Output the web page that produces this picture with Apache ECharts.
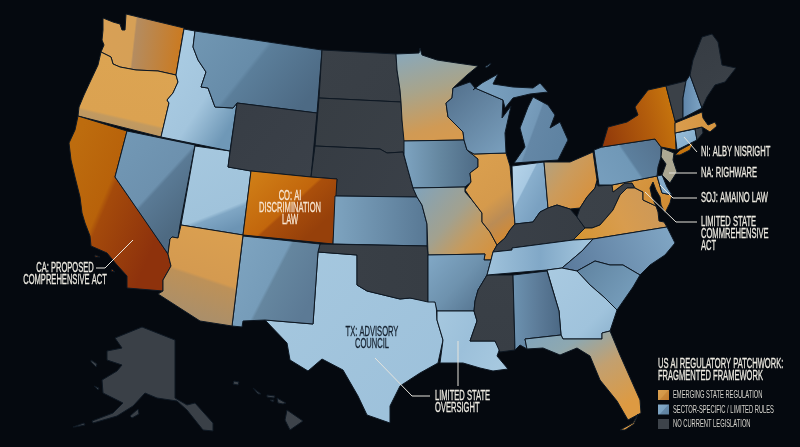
<!DOCTYPE html>
<html>
<head>
<meta charset="utf-8">
<title>US AI regulatory patchwork</title>
<script src="https://cdn.jsdelivr.net/npm/echarts@6/dist/echarts.min.js"></script>
<style>
  html, body { margin: 0; padding: 0; background: #05090f; }
  #chart { width: 800px; height: 447px; }
</style>
</head>
<body>
<div id="chart"></div>
<script>
// data: which regulatory tier each state sits in
const strongStates = ['CA', 'CO', 'NY'];
const emergingStates = ['WA', 'OR', 'AZ', 'MN', 'IL', 'MO', 'OH', 'VA', 'MD', 'MA', 'FL'];
const sectorStates = ['ID', 'MT', 'NV', 'UT', 'NM', 'TX', 'KS', 'IA', 'WI', 'MI', 'MIU', 'IN', 'PA', 'NJ', 'DE', 'CT', 'NH',
  'AR', 'LA', 'TN', 'AL', 'GA', 'SC', 'NC'];
const noLawStates = ['WY', 'ND', 'SD', 'NE', 'OK', 'KY', 'WV', 'MS', 'VT', 'RI', 'ME', 'AK', 'HI'];

const legendTitle = ['US AI REGULATORY PATCHWORK:', 'FRAGMENTED FRAMEWORK'];
const legendLabels = ['EMERGING STATE REGULATION', 'SECTOR-SPECIFIC / LIMITED RULES', 'NO CURRENT LEGISLATION'];

// outlines, in picture pixels
const stateShapes = {
  WA: [[[103,18],[113,22],[120,24],[122,30],[125,30],[126,14],[184,28],[176,75],[158,71],[136,70],[120,67],[113,64],[111,57],[101,52],[104,45],[102,40],[103,30]]],
  OR: [[[101,52],[111,57],[113,64],[120,67],[136,70],[158,71],[176,75],[178,82],[173,93],[167,100],[169,103],[161,137],[78,116],[79,107],[84,95],[90,82],[98,65]]],
  CA: [[[78,116],[127,131],[115,177],[147,223],[168,254],[171,266],[163,280],[163,291],[127,288],[127,276],[117,265],[107,253],[91,246],[90,236],[85,223],[82,213],[80,197],[75,177],[71,160],[69,143],[75,130]],
       [[95,255],[100,257],[99,258],[95,257]],[[112,269],[115,272],[114,273],[111,271]]],
  NV: [[[127,131],[195,145],[180,225],[178,238],[172,237],[170,239],[168,254],[115,177]]],
  UT: [[[195,146],[230,151],[228,167],[251,171],[243,235],[181,225]]],
  ID: [[[184,29],[195,31],[193,47],[198,60],[206,72],[201,87],[208,88],[215,107],[233,108],[237,103],[230,151],[161,137],[169,103],[167,100],[173,93],[178,82],[176,75]]],
  MT: [[[195,31],[322,50],[317,113],[237,103],[233,108],[215,107],[208,88],[201,87],[206,72],[198,60],[193,47]]],
  WY: [[[237,103],[317,113],[311,177],[251,171],[228,167]]],
  ND: [[[322,50],[396,54],[397,70],[400,90],[401,102],[319,98]]],
  SD: [[[319,98],[401,102],[402,120],[405,140],[404,155],[403,152],[387,153],[380,149],[315,146]]],
  NE: [[[315,146],[380,149],[387,153],[403,152],[408,170],[413,188],[417,197],[335,196],[337,179],[311,177]]],
  MN: [[[396,54],[419,53],[420,48],[422,55],[437,60],[457,63],[478,66],[467,75],[453,88],[452,98],[446,103],[448,117],[463,132],[464,140],[404,141],[402,120],[401,102],[400,90],[397,70]]],
  CO: [[[251,171],[311,177],[337,179],[333,244],[243,235]]],
  KS: [[[335,196],[417,197],[422,205],[427,224],[427,246],[333,244]]],
  IA: [[[404,141],[464,140],[467,150],[478,159],[478,167],[470,173],[471,182],[465,187],[413,188],[408,170],[404,155]]],
  MO: [[[413,188],[465,187],[465,192],[472,200],[482,213],[482,222],[490,232],[497,245],[493,252],[491,260],[484,260],[485,254],[428,255],[427,224],[422,205],[417,197]]],
  IL: [[[474,154],[506,153],[510,166],[513,200],[515,224],[510,230],[505,238],[497,245],[490,232],[482,222],[482,213],[472,200],[465,190],[471,182],[470,173],[478,167],[478,159],[467,150]]],
  WI: [[[453,88],[470,82],[475,88],[503,100],[502,118],[511,106],[505,133],[506,153],[474,154],[467,150],[464,140],[463,132],[448,117],[446,103],[452,98]]],
  MIU: [[[473,90],[482,83],[498,74],[493,84],[513,87],[533,88],[540,83],[548,92],[530,94],[513,98],[505,108],[503,100],[475,88]],
        [[485,67],[491,63],[490,65],[486,68]]],
  MI: [[[533,97],[548,105],[555,115],[550,128],[560,122],[568,140],[558,160],[514,163],[525,147],[520,128],[528,107]]],
  IN: [[[512,166],[544,162],[548,208],[540,212],[533,222],[515,224],[513,200]]],
  OH: [[[544,162],[570,162],[593,152],[597,180],[595,188],[587,197],[580,208],[570,209],[557,205],[548,208]]],
  KY: [[[515,224],[533,222],[540,212],[548,208],[557,205],[570,209],[577,217],[585,228],[573,240],[512,248],[512,250],[493,252],[497,245],[505,238],[510,230]]],
  WV: [[[597,182],[598,186],[612,185],[613,192],[625,183],[632,183],[635,188],[627,188],[620,195],[613,210],[607,217],[600,225],[592,228],[585,228],[577,217],[580,208],[587,197],[595,188]]],
  VA: [[[573,240],[585,228],[592,228],[600,225],[607,217],[613,210],[620,195],[627,188],[635,188],[643,192],[643,200],[656,206],[658,212],[659,221],[664,222],[667,227],[593,239]]],
  MD: [[[612,185],[657,176],[662,193],[672,195],[670,203],[665,213],[661,205],[660,197],[656,190],[653,182],[650,188],[652,197],[656,206],[643,200],[643,192],[635,188],[632,183],[625,183],[613,192]]],
  DE: [[[657,176],[662,175],[667,187],[672,195],[662,193]]],
  PA: [[[594,150],[602,147],[655,139],[661,147],[661,157],[658,167],[657,176],[612,185],[599,185]]],
  NY: [[[602,147],[608,127],[627,122],[638,115],[635,107],[648,90],[666,86],[671,105],[675,120],[676,150],[661,147],[655,139]],
       [[675,155],[680,150],[693,143],[690,150],[680,155]]],
  NJ: [[[662,148],[674,153],[673,160],[677,172],[670,183],[662,175],[666,164],[661,157]]],
  CT: [[[675,133],[695,129],[697,140],[677,150]]],
  RI: [[[695,129],[702,127],[703,133],[697,140]]],
  MA: [[[675,123],[702,112],[703,118],[708,125],[715,122],[717,126],[710,132],[702,127],[675,133]]],
  VT: [[[666,86],[686,81],[683,98],[683,118],[675,121]]],
  NH: [[[686,81],[690,75],[702,108],[683,118],[683,98]]],
  ME: [[[690,75],[693,60],[702,37],[712,34],[718,42],[722,65],[736,68],[725,82],[715,85],[707,97],[702,108]]],
  TX: [[[318,252],[357,255],[357,285],[367,291],[400,299],[410,298],[436,302],[437,320],[443,340],[438,363],[420,373],[400,386],[390,406],[390,423],[367,415],[358,396],[343,370],[322,359],[308,371],[290,360],[287,343],[265,320],[313,324]]],
  OK: [[[320,244],[427,246],[428,255],[428,302],[410,298],[400,299],[367,291],[357,285],[357,255],[318,252]]],
  NM: [[[243,236],[320,244],[318,252],[313,324],[265,320],[243,321],[242,327],[232,326]]],
  AZ: [[[181,225],[243,235],[232,326],[200,321],[158,294],[163,291],[163,280],[171,266],[168,254],[170,239],[172,237],[178,238]]],
  AR: [[[428,255],[485,254],[484,260],[491,260],[487,275],[478,290],[475,301],[474,311],[437,311],[435,302],[428,302]]],
  LA: [[[437,311],[474,311],[477,321],[470,341],[495,341],[500,348],[497,356],[508,369],[493,371],[480,368],[463,363],[440,363],[443,340],[437,320]]],
  MS: [[[487,275],[513,275],[515,350],[500,352],[495,341],[470,341],[477,321],[474,311],[475,301],[478,290]]],
  TN: [[[493,252],[512,250],[512,248],[573,240],[593,239],[582,251],[562,268],[547,270],[487,275],[491,260]]],
  NC: [[[593,239],[667,227],[675,243],[665,255],[650,265],[640,275],[623,265],[610,265],[595,261],[577,271],[562,268],[582,251]]],
  SC: [[[577,271],[595,261],[610,265],[623,265],[640,275],[633,287],[617,310],[605,298],[590,285]]],
  GA: [[[547,270],[562,268],[577,271],[590,285],[605,298],[617,310],[610,331],[602,333],[602,339],[563,339],[561,335],[559,311]]],
  AL: [[[513,275],[547,271],[559,311],[561,335],[525,339],[527,349],[520,345],[515,350]]],
  FL: [[[525,339],[561,335],[563,339],[602,339],[602,333],[610,331],[620,355],[640,400],[641,413],[628,420],[617,401],[600,380],[590,356],[577,348],[560,355],[543,348],[527,349]],
       [[620,430],[633,423],[638,414],[634,424],[625,430]]],
  AK: [[[115,338],[142,327],[175,340],[175,398],[187,405],[195,403],[213,423],[213,431],[203,430],[187,410],[177,401],[157,398],[145,393],[133,406],[117,416],[93,423],[92,421],[113,413],[123,403],[103,393],[102,380],[117,371],[122,365],[107,360],[107,351],[122,348]],
       [[130,416],[138,409],[139,414],[132,418]],[[73,427],[84,423],[85,425],[75,427]],[[91,360],[97,364],[96,367],[91,362]],[[94,386],[99,388],[98,390]]],
  HI: [[[287,410],[303,421],[290,430],[285,420]],[[277,398],[286,403],[283,404],[278,403]],[[253,388],[261,394],[258,394]],[[234,381],[239,382],[238,385],[233,384]],[[267,395],[275,396],[274,398],[267,397]],[[270,400],[274,400],[273,402]]]
};

// facet look of every state: direction of the fill, then colour stops
const stateFill = {
  WA: [0,0,1,.15,[[0,'#d8a056'],[.42,'#d6a056'],[.44,'#b48c60'],[1,'#cb7a20']]],
  OR: [.2,0,0,1,[[0,'#dca452'],[.66,'#dba251'],[.69,'#c29a60'],[1,'#b08f68']]],
  CA: [0,.25,1,.5,[[0,'#bd6c0e'],[.42,'#b8620a'],[.47,'#a44a0b'],[1,'#8e320c']]],
  NV: [0,0,1,.6,[[0,'#7399b6'],[.62,'#6d91ae'],[.65,'#5a7a95'],[1,'#4e6a82']]],
  UT: [0,0,.5,1,[[0,'#a6c8df'],[.78,'#a0c3db'],[.82,'#7fa6c4'],[1,'#6c94b4']]],
  ID: [0,.3,1,.7,[[0,'#aacce3'],[.6,'#a3c5dd'],[1,'#6f98b7']]],
  MT: [0,0,.8,1,[[0,'#7197b3'],[.5,'#678ca9'],[.53,'#5b7e9a'],[1,'#4d6a84']]],
  WY: [0,0,1,1,[[0,'#373d45'],[1,'#3b4149']]],
  ND: [0,0,1,1,[[0,'#3a4047'],[1,'#383e45']]],
  SD: [0,0,1,1,[[0,'#373d43'],[1,'#3a4047']]],
  NE: [0,0,1,1,[[0,'#363c43'],[1,'#3a4048']]],
  MN: [.2,0,.5,1,[[0,'#87a8bd'],[.45,'#a8a48b'],[.85,'#d09a55'],[1,'#d69a4f']]],
  CO: [0,.15,.6,1,[[0,'#d07f17'],[.58,'#c2660c'],[.61,'#aa4f0b'],[1,'#96400a']]],
  KS: [0,0,1,0,[[0,'#7ea4c0'],[1,'#587894']]],
  IA: [0,0,1,0,[[0,'#7ea4c1'],[.5,'#64869f'],[1,'#4d6a85']]],
  MO: [0,0,1,1,[[0,'#7fa3bd'],[.45,'#a2a18f'],[.7,'#c89a5a'],[1,'#d98f35']]],
  IL: [0,.2,1,.9,[[0,'#da9f4e'],[.5,'#d59a4c'],[.72,'#bb8c55'],[1,'#d8892c']]],
  WI: [0,0,1,1,[[0,'#516e8a'],[1,'#7ca2c0']]],
  MIU: [0,0,1,0,[[0,'#7ca3c2'],[1,'#6a8fae']]],
  MI: [0,0,1,.3,[[0,'#80a6c4'],[.5,'#7398b7'],[.53,'#6487a6'],[1,'#5f83a2']]],
  IN: [0,.1,1,.4,[[0,'#b6d4ea'],[.48,'#a8c9e2'],[.51,'#89afcd'],[1,'#7aa1c1']]],
  OH: [0,0,1,.7,[[0,'#ada388'],[.5,'#cb9b5c'],[1,'#d8913c']]],
  KY: [0,0,1,0,[[0,'#3a4048'],[1,'#373d44']]],
  WV: [0,0,1,0,[[0,'#3b4148'],[1,'#3a4047']]],
  VA: [0,1,1,.1,[[0,'#d59531'],[.5,'#d89c4e'],[1,'#c8975c']]],
  MD: [0,0,1,1,[[0,'#d89c4a'],[1,'#d08a30']]],
  DE: [0,0,1,1,[[0,'#8ab0cf'],[1,'#7ca4c4']]],
  PA: [0,1,1,0,[[0,'#789fbe'],[.52,'#7098b7'],[.55,'#5c7f9d'],[1,'#54718d']]],
  NY: [0,.65,1,.3,[[0,'#923a0a'],[.5,'#b35d0c'],[1,'#d4860f']]],
  NJ: [0,0,0,1,[[0,'#aea994'],[1,'#a8a48f']]],
  CT: [0,0,1,1,[[0,'#9cc0dc'],[1,'#7ca6c6']]],
  RI: [0,0,1,0,[[0,'#3d444c'],[1,'#3d444c']]],
  MA: [0,0,1,0,[[0,'#d99c4e'],[1,'#d6953f']]],
  VT: [0,0,1,0,[[0,'#3b4148'],[1,'#3b4148']]],
  NH: [0,0,1,0,[[0,'#5e84a8'],[1,'#7fa6c6']]],
  ME: [0,0,1,1,[[0,'#363c43'],[1,'#3c4249']]],
  TX: [0,0,1,1,[[0,'#a6c8df'],[1,'#9cc0da']]],
  OK: [0,0,1,0,[[0,'#3a4047'],[1,'#373d44']]],
  NM: [0,0,1,.5,[[0,'#7fa5c1'],[.55,'#769cb9'],[.58,'#65869f'],[1,'#5c7a95']]],
  AZ: [.7,0,.3,1,[[0,'#dba050'],[.5,'#d49a50'],[.53,'#bd9158'],[1,'#a48e70']]],
  AR: [0,0,1,1,[[0,'#82a9c7'],[.5,'#6e92ae'],[1,'#4e6c88']]],
  LA: [0,0,1,.6,[[0,'#a6c8df'],[.5,'#9cc0da'],[1,'#a6c8df']]],
  MS: [0,0,0,1,[[0,'#3a4047'],[1,'#383e45']]],
  TN: [0,0,1,0,[[0,'#a0c3dc'],[.5,'#81a8c7'],[1,'#a6c8df']]],
  NC: [0,1,1,0,[[0,'#59789a'],[1,'#82a8c6']]],
  SC: [0,0,1,1,[[0,'#5f829f'],[1,'#7ba3c1']]],
  GA: [0,0,1,1,[[0,'#a9cae1'],[.7,'#a0c3dc'],[1,'#8ab0cc']]],
  AL: [0,0,1,0,[[0,'#6d93b1'],[.55,'#5b7a97'],[1,'#4b6884']]],
  FL: [0,0,.5,1,[[0,'#7ea4bf'],[.3,'#8ea8b0'],[.6,'#c2a070'],[1,'#dd9a42']]],
  AK: [0,0,1,1,[[0,'#3a4047'],[1,'#3a4047']]],
  HI: [0,0,1,1,[[0,'#3d434a'],[1,'#3d434a']]]
};

const swatchFill = [
  [0,0,1,1,[[0,'#dba050'],[.5,'#d39848'],[.55,'#c8883a'],[1,'#c07a2e']]],
  [0,0,1,1,[[0,'#85abc9'],[.5,'#7aa1c0'],[.55,'#6488a8'],[1,'#5c7f9d']]],
  [0,0,1,1,[[0,'#3d434a'],[1,'#3d434a']]]
];

// callouts sit on top of the map as plain text and leader lines
// no condensed face is installed, so squeeze Liberation Sans sideways
const calloutFont = '14px "Liberation Sans", sans-serif';
const legendFont = '11px "Liberation Sans", sans-serif';
const calloutSqueeze = 0.54;
const legendSqueeze = 0.525;
const calloutColor = '#ece9e0';
const callouts = [
  { text: 'CO: AI\nDISCRIMINATION\nLAW', x: 290, y: 208, align: 'center', fill: '#f7e6d2' },
  { text: 'CA: PROPOSED\nCOMPREHENSIVE ACT', x: 65, y: 274, align: 'center' },
  { text: 'TX: ADVISORY\nCOUNCIL', x: 372, y: 338, align: 'center', fill: '#14202e' },
  { text: 'LIMITED STATE\nOVERSIGHT', x: 435, y: 402, align: 'left' },
  { text: 'NI: ALBY NISRIGHT', x: 701, y: 152, align: 'left' },
  { text: 'NA: RIGHWARE', x: 701, y: 173, align: 'left' },
  { text: 'SOJ: AMAINO LAW', x: 701, y: 198, align: 'left' },
  { text: 'LIMITED STATE\nCOMMREHENSIVE\nACT', x: 701, y: 234, align: 'left' }
];
const leaders = [
  [[96,268],[105,268],[133,240]],
  [[375,358],[412,396],[430,396]],
  [[458,341],[458,386]],
  [[684,137],[697,152]],
  [[669,173],[697,173]],
  [[660,185],[673,198],[697,198]],
  [[645,192],[676,222],[697,222]]
];

function gradient(f) {
  return { type: 'linear', x: f[0], y: f[1], x2: f[2], y2: f[3], global: false,
    colorStops: f[4].map(s => ({ offset: s[0], color: s[1] })) };
}

// y runs up in geojson so flip the picture coordinates
const features = Object.keys(stateShapes).map(name => ({
  type: 'Feature',
  properties: { name: name },
  geometry: { type: 'MultiPolygon', coordinates: stateShapes[name].map(ring => [ring.map(p => [p[0], 447 - p[1]])]) }
}));
echarts.registerMap('usa', { type: 'FeatureCollection', features: features });

const tiers = [[strongStates, 3], [emergingStates, 2], [sectorStates, 1], [noLawStates, 0]];
const mapData = [];
tiers.forEach(t => {
  t[0].forEach(name => {
    mapData.push({ name: name, value: t[1], itemStyle: { areaColor: gradient(stateFill[name]) } });
  });
});

const graphics = [];
leaders.forEach(pts => {
  graphics.push({ type: 'polyline', silent: true, z: 100, shape: { points: pts }, style: { stroke: '#e6e4dc', lineWidth: 1, fill: null } });
});
callouts.forEach(c => {
  const fill = c.fill || calloutColor;
  graphics.push({ type: 'text', silent: true, z: 100, x: c.x, y: c.y, scaleX: calloutSqueeze,
    style: { text: c.text, font: calloutFont, lineHeight: 12, fill: fill, stroke: fill, lineWidth: 0.3, align: c.align, verticalAlign: 'middle' } });
});
// legend block, bottom right
graphics.push({ type: 'text', silent: true, z: 100, x: 658, y: 370, scaleX: calloutSqueeze,
  style: { text: legendTitle.join('\n'), font: calloutFont, lineHeight: 12, fill: calloutColor, stroke: calloutColor, lineWidth: 0.3, align: 'left', verticalAlign: 'middle' } });
legendLabels.forEach((label, i) => {
  const y = 390 + i * 14.5;
  graphics.push({ type: 'rect', silent: true, z: 100, shape: { x: 658, y: y, width: 11, height: 10 }, style: { fill: gradient(swatchFill[i]) } });
  graphics.push({ type: 'text', silent: true, z: 100, x: 673, y: y + 5, scaleX: legendSqueeze,
    style: { text: label, font: legendFont, fill: '#d8d6cf', align: 'left', verticalAlign: 'middle' } });
});

const chart = echarts.init(document.getElementById('chart'));
chart.setOption({
  animation: false,
  backgroundColor: '#05090f',
  tooltip: { show: false },
  series: [{
    type: 'map',
    map: 'usa',
    silent: true,
    roam: false,
    aspectScale: 1,
    boundingCoords: [[0, 447], [800, 0]],
    layoutCenter: ['50%', '50%'],
    layoutSize: 800,
    label: { show: false },
    itemStyle: { borderColor: '#0e1823', borderWidth: 1, areaColor: '#3a4047' },
    emphasis: { disabled: true },
    data: mapData
  }],
  graphic: graphics
});
</script>
</body>
</html>
